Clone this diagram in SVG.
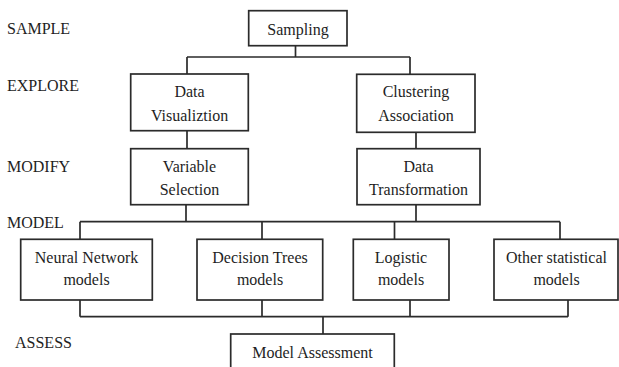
<svg xmlns="http://www.w3.org/2000/svg" width="619" height="367" viewBox="0 0 619 367">
<style>
.box{fill:#fff;stroke:#2b2b2b;stroke-width:1.7}
.ln{fill:none;stroke:#2b2b2b;stroke-width:1.7}
text{font-family:"Liberation Serif","Times New Roman",serif;font-size:16px;fill:#1e1e1e}
.c{text-anchor:middle}
</style>
<rect width="619" height="367" fill="#fff"/>
<g id="stage-labels">
<text x="7" y="34">SAMPLE</text>
<text x="7" y="91">EXPLORE</text>
<text x="7" y="172">MODIFY</text>
<text x="7" y="228">MODEL</text>
<text x="15" y="348">ASSESS</text>
</g>
<g id="connectors" class="ln">
<path d="M295.5 45.7V57M187 57H410M187 57V74M410 57V74"/>
<path d="M187 130.7V148.7M416 132.3V148.7"/>
<path d="M186 204.7V221.7M416 204.7V221.7M80 221.7H560M80 221.7V239.3M262 221.7V239.3M394.5 221.7V239.3M560 221.7V239.3"/>
<path d="M80 300V316.7M262 300V316.7M410 300V316.7M568 300V316.7M80 316.7H568M323 316.7V334"/>
</g>
<g id="sampling"><rect class="box" x="248.7" y="10.7" width="98.3" height="35"/><text class="c" x="298" y="35">Sampling</text></g>
<g id="data-visualiztion"><rect class="box" x="130.7" y="74" width="117.6" height="56.7"/><text class="c" x="189.5" y="97">Data</text><text class="c" x="189.5" y="121">Visualiztion</text></g>
<g id="clustering-association"><rect class="box" x="356.7" y="74.3" width="118.3" height="58"/><text class="c" x="416" y="97">Clustering</text><text class="c" x="416" y="121">Association</text></g>
<g id="variable-selection"><rect class="box" x="130.7" y="148.7" width="117.6" height="56"/><text class="c" x="189.5" y="172">Variable</text><text class="c" x="189.5" y="195">Selection</text></g>
<g id="data-transformation"><rect class="box" x="357" y="148.7" width="123" height="56"/><text class="c" x="418.5" y="172">Data</text><text class="c" x="418.5" y="195">Transformation</text></g>
<g id="neural-network"><rect class="box" x="20.7" y="239.3" width="131.6" height="60.7"/><text class="c" x="86.5" y="263">Neural Network</text><text class="c" x="86.5" y="285">models</text></g>
<g id="decision-trees"><rect class="box" x="197" y="239.3" width="125.7" height="60.7"/><text class="c" x="260" y="263">Decision Trees</text><text class="c" x="260" y="285">models</text></g>
<g id="logistic"><rect class="box" x="353.3" y="239.3" width="95.7" height="60.7"/><text class="c" x="401" y="263">Logistic</text><text class="c" x="401" y="285">models</text></g>
<g id="other-statistical"><rect class="box" x="494" y="239.3" width="124" height="60.7"/><text class="c" x="556.5" y="263">Other statistical</text><text class="c" x="556.5" y="285">models</text></g>
<g id="model-assessment"><rect class="box" x="230.7" y="334" width="163.6" height="35"/><text class="c" x="312.5" y="358">Model Assessment</text></g>
</svg>
